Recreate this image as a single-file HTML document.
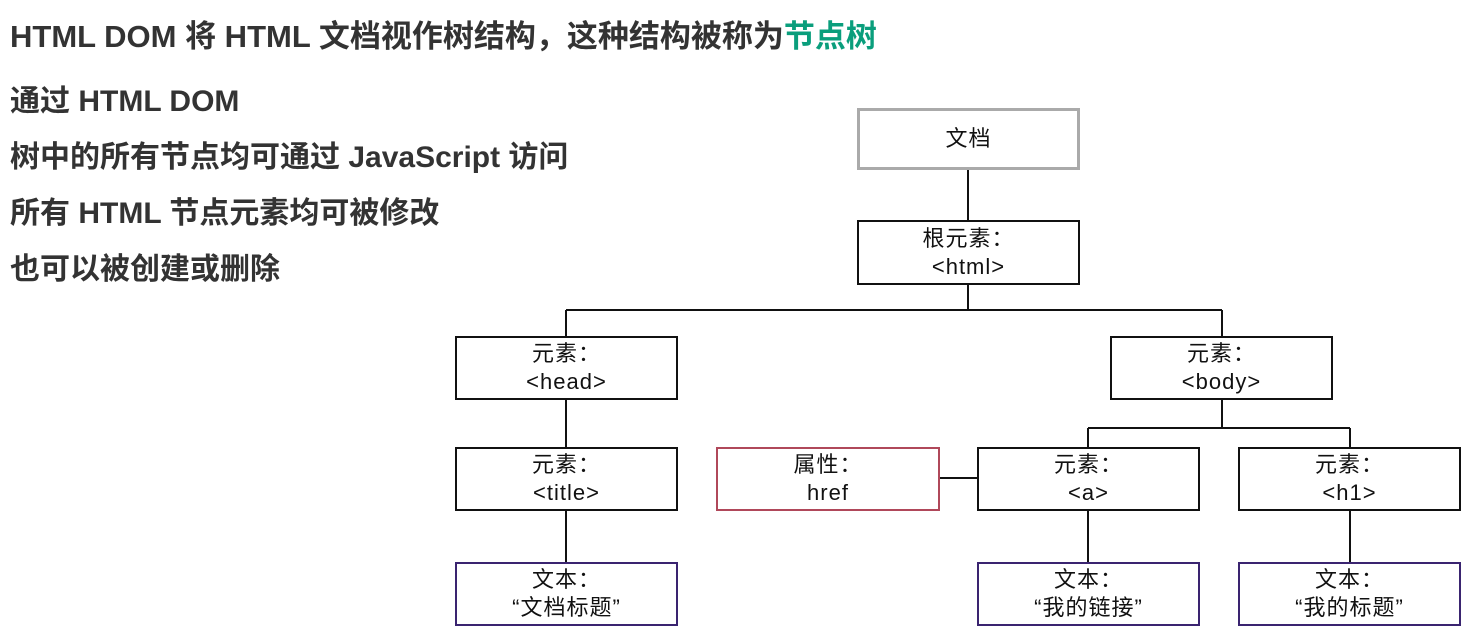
<!DOCTYPE html>
<html><head><meta charset="utf-8"><style>
body{margin:0;width:1483px;height:641px;background:#fff;position:relative;overflow:hidden;font-family:"Liberation Sans","Noto Sans CJK SC",sans-serif;}
.t{position:absolute;left:10px;font-size:30px;font-weight:600;color:#333;white-space:nowrap;line-height:32px;font-family:"Liberation Sans Narrow","Liberation Sans","Noto Sans CJK SC",sans-serif;}
.b{position:absolute;box-sizing:border-box;border:2px solid #111;background:#fff;display:flex;flex-direction:column;align-items:center;justify-content:center;font-size:22px;line-height:28px;color:#111;letter-spacing:1px;font-family:"Liberation Sans","Noto Sans CJK SC",sans-serif;}
svg{position:absolute;left:0;top:0;}
</style></head><body>
<div class="t" style="top:21px;font-size:31px">HTML DOM 将 HTML 文档视作树结构，这种结构被称为<span style="color:#0a9e7c;font-weight:700">节点树</span></div>
<div class="t" style="top:86px">通过 HTML DOM</div>
<div class="t" style="top:142px">树中的所有节点均可通过 JavaScript 访问</div>
<div class="t" style="top:198px">所有 HTML 节点元素均可被修改</div>
<div class="t" style="top:254px">也可以被创建或删除</div>
<svg width="1483" height="641"><g stroke="#111" stroke-width="2" fill="none">
<line x1="968" y1="170" x2="968" y2="220"/>
<line x1="968" y1="285" x2="968" y2="310"/>
<line x1="566" y1="310" x2="1222" y2="310"/>
<line x1="566" y1="310" x2="566" y2="336"/>
<line x1="1222" y1="310" x2="1222" y2="336"/>
<line x1="1222" y1="400" x2="1222" y2="428"/>
<line x1="1088" y1="428" x2="1350" y2="428"/>
<line x1="1088" y1="428" x2="1088" y2="447"/>
<line x1="1350" y1="428" x2="1350" y2="447"/>
<line x1="566" y1="400" x2="566" y2="447"/>
<line x1="566" y1="511" x2="566" y2="562"/>
<line x1="1088" y1="511" x2="1088" y2="562"/>
<line x1="1350" y1="511" x2="1350" y2="562"/>
<line x1="940" y1="478" x2="977" y2="478"/>
</g></svg>
<div class="b" style="left:857px;top:108px;width:223px;height:62px;border:3px solid #aaa">文档</div>
<div class="b" style="left:857px;top:220px;width:223px;height:65px">根元素：<span>&lt;html&gt;</span></div>
<div class="b" style="left:455px;top:336px;width:223px;height:64px">元素：<span>&lt;head&gt;</span></div>
<div class="b" style="left:1110px;top:336px;width:223px;height:64px">元素：<span>&lt;body&gt;</span></div>
<div class="b" style="left:455px;top:447px;width:223px;height:64px">元素：<span>&lt;title&gt;</span></div>
<div class="b" style="left:716px;top:447px;width:224px;height:64px;border-color:#b0485a">属性：<span>href</span></div>
<div class="b" style="left:977px;top:447px;width:223px;height:64px">元素：<span>&lt;a&gt;</span></div>
<div class="b" style="left:1238px;top:447px;width:223px;height:64px">元素：<span>&lt;h1&gt;</span></div>
<div class="b" style="left:455px;top:562px;width:223px;height:64px;border-color:#3a2470">文本：<span>“文档标题”</span></div>
<div class="b" style="left:977px;top:562px;width:223px;height:64px;border-color:#3a2470">文本：<span>“我的链接”</span></div>
<div class="b" style="left:1238px;top:562px;width:223px;height:64px;border-color:#3a2470">文本：<span>“我的标题”</span></div>
</body></html>
